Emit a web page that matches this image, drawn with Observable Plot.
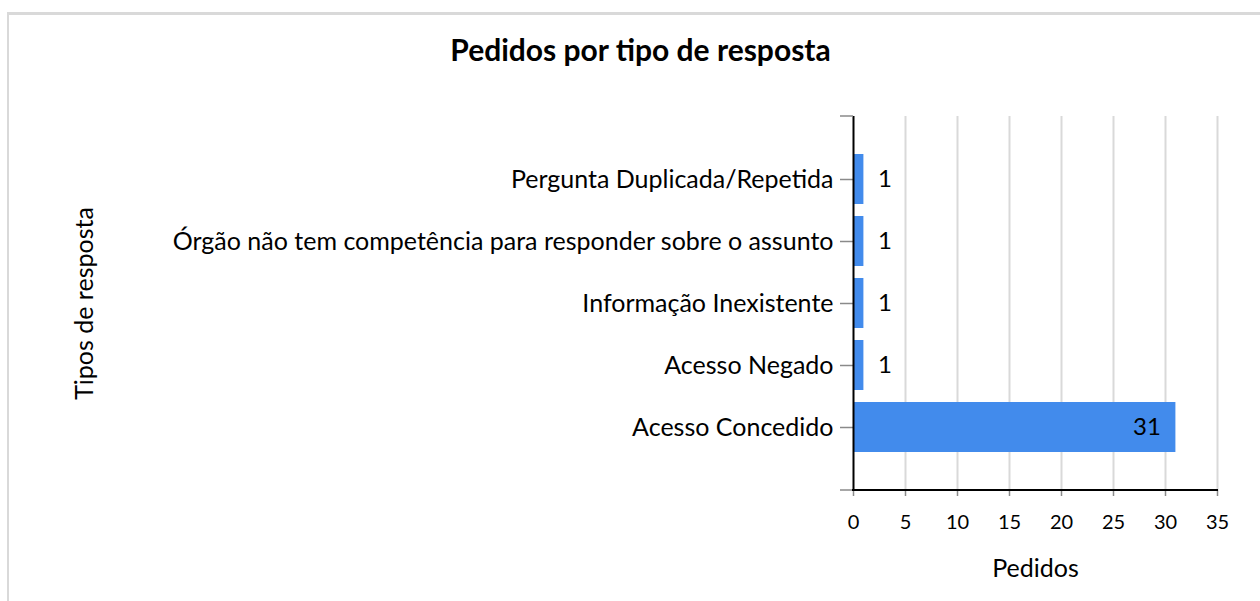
<!DOCTYPE html>
<html>
<head>
<meta charset="utf-8">
<script src="https://cdn.jsdelivr.net/npm/d3@7"></script>
<script src="https://cdn.jsdelivr.net/npm/@observablehq/plot@0.6"></script>
<style>
  html, body { margin: 0; padding: 0; background: #fff; }
  body { width: 1260px; height: 601px; overflow: hidden; position: relative; font-family: Lato, "Open Sans", sans-serif; }
  #frame { position: absolute; left: 7px; top: 12px; width: 1400px; height: 800px;
           border-left: 2px solid #d9d9d9; border-top: 3px solid #d9d9d9; box-sizing: border-box; pointer-events: none; }
  #title { height: 90px; box-sizing: border-box; padding-top: 34px; padding-left: 21px; line-height: 30px;
           font-size: 30px; font-weight: bold; text-align: center; color: #000; }
  #chart svg { display: block; }
</style>
</head>
<body>
<div id="frame"></div>
<div id="title"></div>
<div id="chart"></div>
<script>
const titleText = "Pedidos por tipo de resposta";
const xLabel = "Pedidos";
const yLabel = "Tipos de resposta";
const categories = [
  "Pergunta Duplicada/Repetida",
  "Órgão não tem competência para responder sobre o assunto",
  "Informação Inexistente",
  "Acesso Negado",
  "Acesso Concedido"
];
const pedidos = [1, 1, 1, 1, 31];
const xTicks = [0, 5, 10, 15, 20, 25, 30, 35];
const gridTicks = [5, 10, 15, 20, 25, 30, 35];

const data = categories.map((c, i) => ({category: c, value: pedidos[i]}));

document.getElementById("title").textContent = titleText;

const plot = Plot.plot({
  width: 1260,
  height: 511,
  marginTop: 26,
  marginBottom: 111,
  marginLeft: 853,
  marginRight: 43,
  style: {fontFamily: "Lato, 'Open Sans', sans-serif", fontSize: "25px", color: "#000", background: "transparent"},
  x: {domain: [0, 35]},
  y: {type: "band", domain: categories, paddingInner: 0.197, paddingOuter: 0.599},
  marks: [
    Plot.gridX(gridTicks, {stroke: "#d9d9d9", strokeWidth: 2, strokeOpacity: 1}),
    Plot.barX(data, {x: "value", y: "category", fill: "#428bec"}),
    Plot.axisY({tickSize: 13, tickPadding: 7, stroke: "#8a8a8a", strokeWidth: 1.5, fill: "#000", fontSize: 25,
                label: yLabel, labelAnchor: "center", labelOffset: 778}),
    Plot.axisX({ticks: xTicks, tickSize: 6, tickPadding: 18, stroke: "#8a8a8a", strokeWidth: 1.5, fill: "#000", fontSize: 20, label: null}),
    Plot.ruleX([0], {stroke: "#000", strokeWidth: 2}),
    Plot.text(data.filter(d => d.value < 5), {x: "value", y: "category", text: d => String(d.value), textAnchor: "start", dx: 14, fontSize: 24, fill: "#000"}),
    Plot.text(data.filter(d => d.value >= 5), {x: "value", y: "category", text: d => String(d.value), textAnchor: "end", dx: -15, fontSize: 24, fill: "#000"}),
    Plot.text([xLabel], {text: d => d, frameAnchor: "bottom", dy: 86, fontSize: 25, fill: "#000"})
  ]
});

document.getElementById("chart").appendChild(plot);

// axis end ticks and bottom axis line, placed from the plot's own scales
const xs = plot.scale("x");
const yr = plot.scale("y").range;
const x0 = xs.apply(0), x1 = xs.apply(35);
const svg = d3.select(plot);
const g = svg.append("g");
[yr[0], yr[1]].forEach(yy => {
  g.append("line").attr("x1", x0 - 13).attr("x2", x0).attr("y1", yy).attr("y2", yy)
    .attr("stroke", "#8a8a8a").attr("stroke-width", 1.5);
});
g.append("line").attr("x1", x0 - 1).attr("x2", x1 + 1).attr("y1", yr[1]).attr("y2", yr[1])
  .attr("stroke", "#000").attr("stroke-width", 2);
</script>
</body>
</html>
